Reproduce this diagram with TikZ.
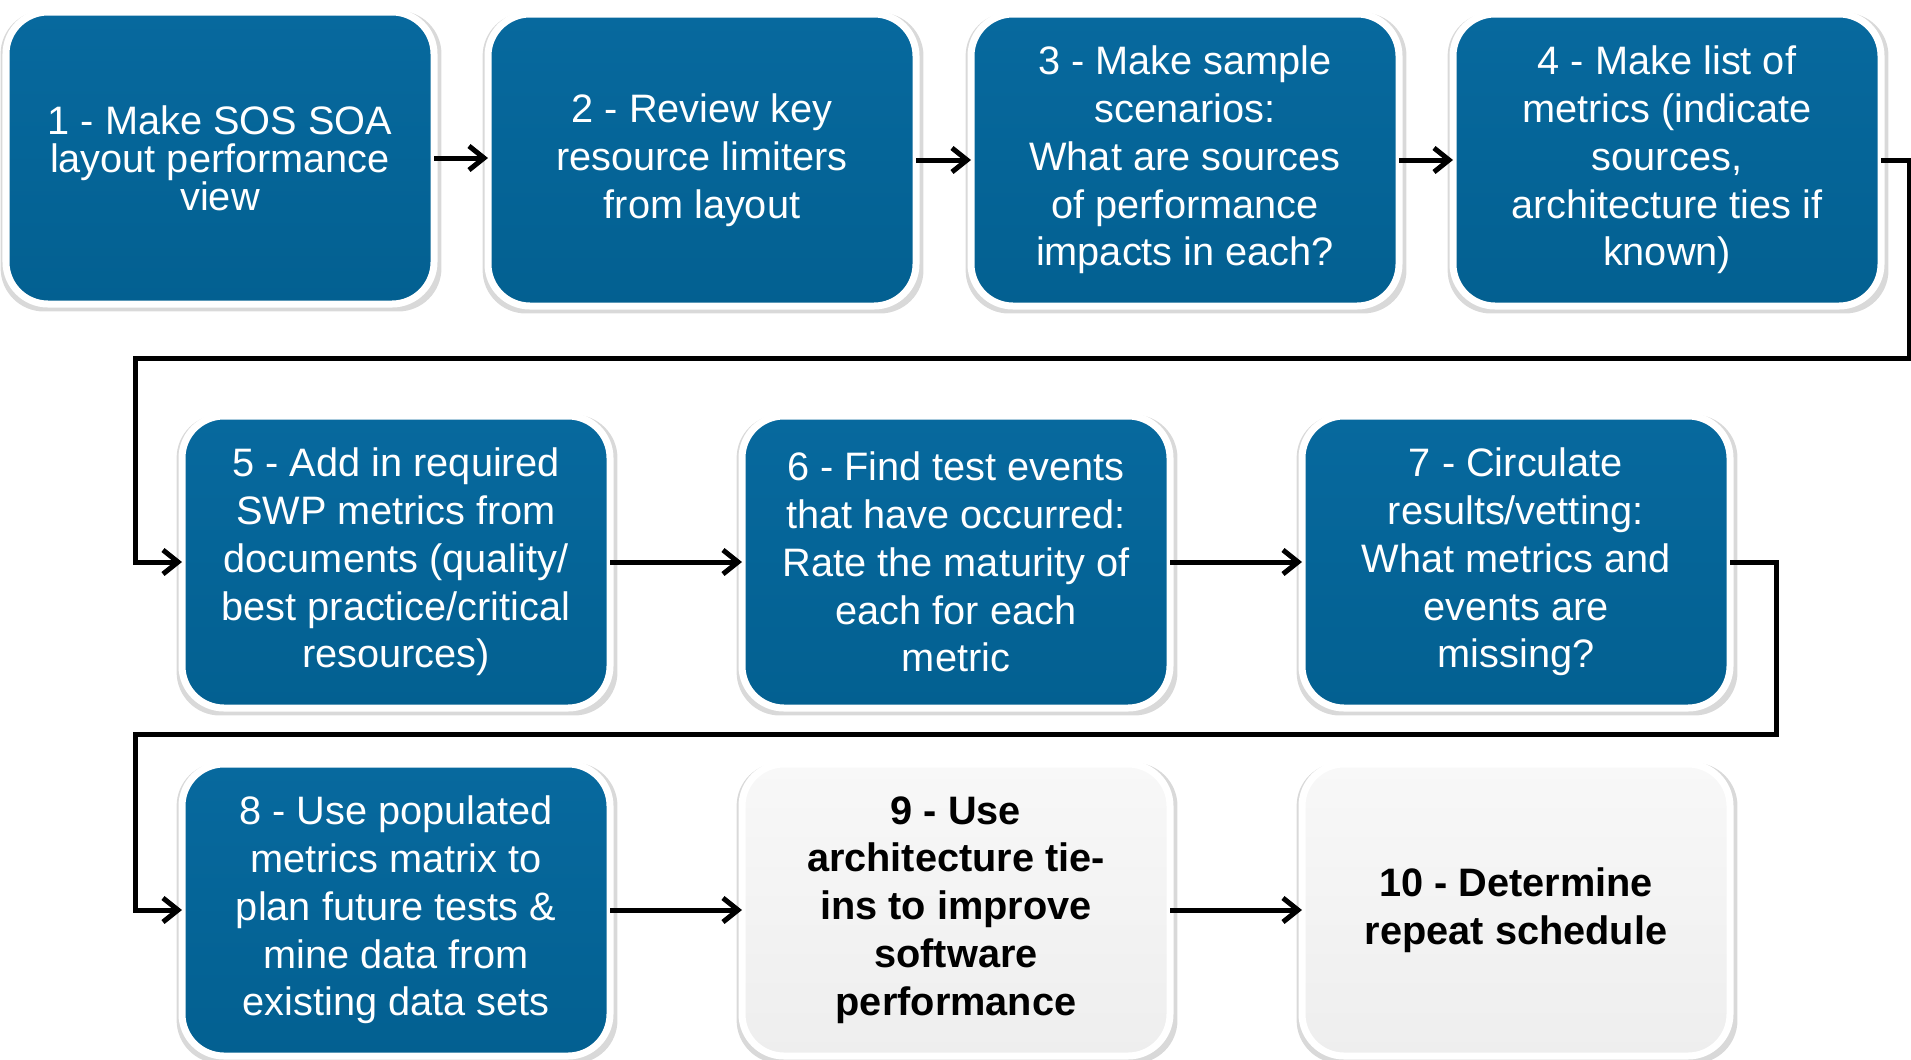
\documentclass[tikz,border=0pt]{standalone}
\usepackage{fontspec}
\setmainfont{Liberation Sans}
\usepackage{tikz}
\usetikzlibrary{arrows.meta,shadows}

\definecolor{boxblue}{RGB}{3,96,145}
\definecolor{boxbluetop}{RGB}{7,105,158}
\definecolor{boxgray}{RGB}{238,238,238}
\definecolor{boxgraytop}{RGB}{248,248,248}

\tikzset{
  stepblue/.style={rectangle, rounded corners=0.42cm, draw=white, line width=0.07cm,
    top color=boxbluetop, bottom color=boxblue, text=white, align=center,
    minimum width=4.28cm, minimum height=2.92cm, outer sep=0pt,
    drop shadow={opacity=0.3, shadow xshift=0.01cm, shadow yshift=-0.03cm, shadow scale=1.03},
    font=\fontsize{11.3}{13.6}\selectfont},
  stepgray/.style={stepblue, top color=boxgraytop, bottom color=boxgray, text=black,
    font=\fontsize{11.3}{13.6}\selectfont\bfseries},
  arr/.style={-{Straight Barb[length=1.5mm,width=2.4mm]}, line width=0.05cm, black}
}

\begin{document}
\begin{tikzpicture}
            \useasboundingbox (0,0) rectangle (19.11,-10.59);
            % Define steps
            \node[stepblue, font=\fontsize{11.3}{10.8}\selectfont] (S1) at (2.20, -1.58) {1 - Make SOS SOA\\layout performance\\view};
            \node[stepblue] (S2) at (7.02, -1.60) {2 - Review key\\resource limiters\\from layout};
            \node[stepblue] (S3) at (11.85, -1.60) {3 - Make sample\\scenarios:\\What are sources\\of performance\\impacts in each?};
            \node[stepblue] (S4) at (16.67, -1.60) {4 - Make list of\\metrics (indicate\\sources,\\architecture ties if\\known)};
            \node[stepblue] (S5) at (3.96, -5.62) {5 - Add in required\\SWP metrics from\\documents (quality/\\best practice/critical\\resources)};
            \node[stepblue] (S6) at (9.56, -5.62) {6 - Find test events\\that have occurred:\\Rate the maturity of\\each for each\\metric};
            \node[stepblue] (S7) at (15.16, -5.62) {7 - Circulate\\results/vetting:\\What metrics and\\events are\\missing?};
            \node[stepblue] (S8) at (3.96, -9.10) {8 - Use populated\\metrics matrix to\\plan future tests \&\\mine data from\\existing data sets};
            \node[stepgray] (S9) at (9.56, -9.10) {9 - Use\\architecture tie-\\ins to improve\\software\\performance};
            \node[stepgray] (S10) at (15.16, -9.10) {10 - Determine\\repeat schedule};
            % Turn points of the long connectors
            \coordinate (R1) at (19.09, -3.58);
            \coordinate (L1) at (1.35, -3.58);
            \coordinate (R2) at (17.76, -7.34);
            \coordinate (L2) at (1.35, -7.34);
            % Draw arrows
            \draw[arr] (S1.east) -- (S2.west |- S1.east);
            \draw[arr] (S2) -- (S3);
            \draw[arr] (S3) -- (S4);
            \draw[arr] (S4.east) -| (R1) -- (L1) |- (S5.west);
            \draw[arr] (S5) -- (S6);
            \draw[arr] (S6) -- (S7);
            \draw[arr] (S7.east) -| (R2) -- (L2) |- (S8.west);
            \draw[arr] (S8) -- (S9);
            \draw[arr] (S9) -- (S10);
        \end{tikzpicture}
\end{document}
